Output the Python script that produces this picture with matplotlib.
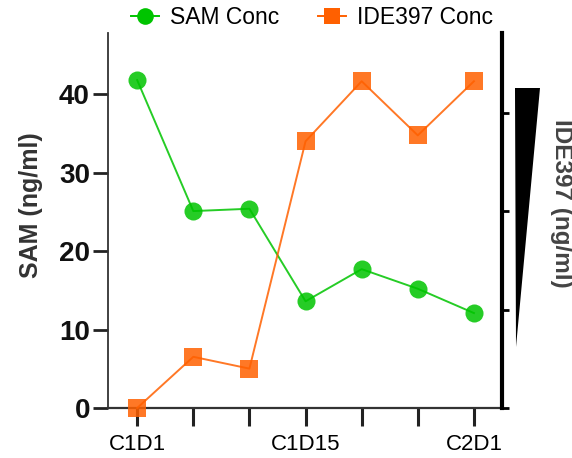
import matplotlib
matplotlib.use("Agg")
import matplotlib.pyplot as plt
from matplotlib.patches import Polygon
from matplotlib.lines import Line2D

visits = ["C1D1", "", "", "C1D15", "", "", "C2D1"]
sam_conc = [41.8, 25.1, 25.4, 13.6, 17.7, 15.2, 12.1]
# IDE397 is shown on a relative scale (no tick values)
ide397_conc = [0, 52, 40, 271, 332, 277, 332]

green = "#00c400"
orange = "#ff6000"

plt.rcParams["font.family"] = ["Liberation Sans", "DejaVu Sans"]

fig = plt.figure(figsize=(5.72, 4.58), dpi=100)
ax = fig.add_axes([0.1888, 0.1092, 0.6888, 0.8187])
ax2 = ax.twinx()

x = list(range(len(visits)))
ax.plot(x, sam_conc, color=green, lw=1.4, alpha=0.85, marker="o", ms=13,
        markeredgewidth=0, zorder=3, clip_on=False)
ax2.plot(x, ide397_conc, color=orange, lw=1.4, alpha=0.85, marker="s", ms=13.5,
         markeredgewidth=0, zorder=3, clip_on=False)

ax.set_xlim(-0.52, 6.5)
ax.set_ylim(0, 47.8)
ax2.set_ylim(0, 381)

ax.set_xticks(x)
ax.set_xticklabels(visits, fontsize=16)
ax.set_yticks([0, 10, 20, 30, 40])
ax.tick_params(axis="y", labelsize=20, length=11, width=2, color="#222222",
               pad=2)
for lab in ax.get_yticklabels():
    lab.set_fontweight("bold")
    lab.set_color("#111111")
ax.tick_params(axis="x", length=13, width=2.2, color="#222222", pad=6)

ax2.set_yticks([0, 100, 200, 300])
ax2.set_yticklabels([])
ax2.tick_params(axis="y", length=5, width=2, color="black")

for a in (ax, ax2):
    a.spines["top"].set_visible(False)
ax.spines["left"].set_color("#333333")
ax.spines["left"].set_linewidth(1.3)
ax.spines["bottom"].set_color("#333333")
ax.spines["bottom"].set_linewidth(1.6)
ax2.spines["right"].set_color("black")
ax2.spines["right"].set_linewidth(3)
ax2.spines["left"].set_visible(False)
ax2.spines["bottom"].set_visible(False)

ax.set_ylabel("SAM (ng/ml)", fontsize=18, fontweight="bold", color="#333333",
              va="center", ha="center")
ax.yaxis.set_label_coords(-0.195, 0.541)
ax2.set_ylabel("IDE397 (ng/ml)", fontsize=17.5, fontweight="bold",
               color="#444444", rotation=-90, va="center", ha="center")
ax2.yaxis.set_label_coords(1.15, 0.547)

# black wedge beside the right axis
wedge = Polygon([(515 / 572, 1 - 88 / 458), (540 / 572, 1 - 88 / 458),
                 (516 / 572, 1 - 347 / 458)], closed=True,
                facecolor="black", edgecolor="none", transform=fig.transFigure)
fig.patches.append(wedge)

handles = [
    Line2D([], [], color=green, lw=1.4, marker="o", ms=12, markeredgewidth=0),
    Line2D([], [], color=orange, lw=1.4, marker="s", ms=12, markeredgewidth=0),
]
fig.legend(handles, ["SAM Conc", "IDE397 Conc"], loc="center",
           bbox_to_anchor=(0.546, 1 - 18 / 458), ncol=2, frameon=False,
           fontsize=16.5, handlelength=1.2, columnspacing=1.7,
           handletextpad=0.5)

fig.savefig("out.png", dpi=100)
